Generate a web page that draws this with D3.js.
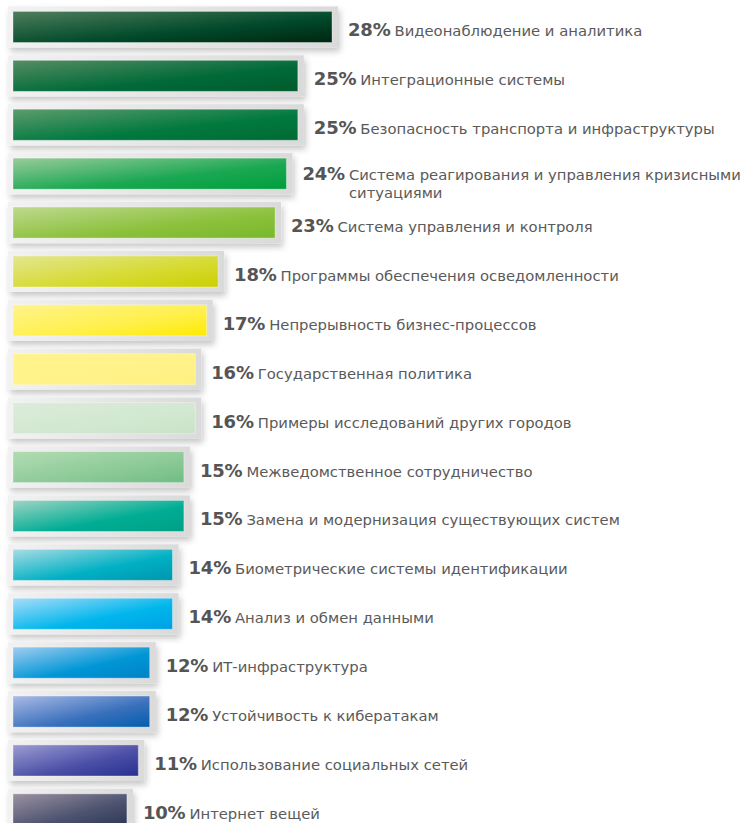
<!DOCTYPE html>
<html>
<head>
<meta charset="utf-8">
<script src="https://cdn.jsdelivr.net/npm/d3@7"></script>
<style>
  body { margin: 0; background: #fff; }
  #chart { width: 751px; height: 823px; }
  text { font-family: "DejaVu Sans", "Noto Sans", sans-serif; }
</style>
</head>
<body>
<div id="chart"></div>
<script>
const categories = [
  ['Видеонаблюдение и аналитика'],
  ['Интеграционные системы'],
  ['Безопасность транспорта и инфраструктуры'],
  ['Система реагирования и управления кризисными', 'ситуациями'],
  ['Система управления и контроля'],
  ['Программы обеспечения осведомленности'],
  ['Непрерывность бизнес-процессов'],
  ['Государственная политика'],
  ['Примеры исследований других городов'],
  ['Межведомственное сотрудничество'],
  ['Замена и модернизация существующих систем'],
  ['Биометрические системы идентификации'],
  ['Анализ и обмен данными'],
  ['ИТ-инфраструктура'],
  ['Устойчивость к кибератакам'],
  ['Использование социальных сетей'],
  ['Интернет вещей']
];
const values = [28, 25, 25, 24, 23, 18, 17, 16, 16, 15, 15, 14, 14, 12, 12, 11, 10];
// light / mid / dark gradient stops for each bar
const startColors = ['#4e7e5c', '#558d64', '#5e9c6e', '#9acb9c', '#bed98f', '#e3e690', '#fff48c', '#fff48c', '#dbecd8', '#b2dcb2', '#9fd4c5', '#a8dce4', '#a8ddf8', '#a2cdf0', '#abbbe5', '#9c9cd2', '#9c92a2'];
const midColors   = ['#00492a', '#006a38', '#00793f', '#1aa852', '#8cc13c', '#d6da30', '#fff04a', '#fff288', '#d2e8d0', '#8cca98', '#00ad94', '#00b0c4', '#00b6ec', '#0096d6', '#3a70bc', '#4a4ea6', '#4e5470'];
const endColors   = ['#002510', '#005a2c', '#006a34', '#009e3c', '#78b82a', '#cccf00', '#ffea00', '#fff080', '#c8e3c8', '#70bd84', '#00a085', '#0096ae', '#00a0e4', '#0082c6', '#005eae', '#283090', '#2e3858'];

const rows = categories.map((c, i) => ({ id: i, lines: c, value: values[i] }));

const svg = d3.select('#chart').append('svg')
  .attr('width', 751)
  .attr('height', 823);

const defs = svg.append('defs');

const shadow = defs.append('filter')
  .attr('id', 'shadow')
  .attr('x', '-10%').attr('y', '-40%')
  .attr('width', '130%').attr('height', '200%');
shadow.append('feDropShadow')
  .attr('dx', 2).attr('dy', 4)
  .attr('stdDeviation', 3)
  .attr('flood-color', '#000')
  .attr('flood-opacity', 0.22);

const frameGrad = defs.append('linearGradient')
  .attr('id', 'frame')
  .attr('x1', 0).attr('y1', 0).attr('x2', 1).attr('y2', 0);
frameGrad.append('stop').attr('offset', 0).attr('stop-color', '#f2f2f2');
frameGrad.append('stop').attr('offset', 1).attr('stop-color', '#dadada');

rows.forEach(d => {
  const g = defs.append('linearGradient')
    .attr('id', 'bar' + d.id)
    .attr('x1', 0).attr('y1', 0).attr('x2', 1).attr('y2', 1);
  g.append('stop').attr('offset', 0).attr('stop-color', startColors[d.id]);
  g.append('stop').attr('offset', 0.6).attr('stop-color', midColors[d.id]);
  g.append('stop').attr('offset', 1).attr('stop-color', endColors[d.id]);
});

const xScale = d3.scaleLinear()
  .domain([0, 28])
  .range([13, 332]);

const yScale = d3.scaleBand()
  .domain(rows.map(d => d.id))
  .range([2.5, 2.5 + 17 * 48.9])
  .paddingInner(0.16)
  .paddingOuter(0.08);

const pad = 5;

const row = svg.append('g').selectAll('g')
  .data(rows)
  .join('g')
    .attr('transform', d => `translate(0, ${yScale(d.id)})`);

row.append('rect')
  .attr('x', xScale(0) - pad)
  .attr('y', 0)
  .attr('width', d => xScale(d.value) - xScale(0) + pad * 2 + 1)
  .attr('height', yScale.bandwidth())
  .attr('fill', 'url(#frame)')
  .attr('filter', 'url(#shadow)');

row.append('rect')
  .attr('x', xScale(0))
  .attr('y', pad)
  .attr('width', d => xScale(d.value) - xScale(0))
  .attr('height', yScale.bandwidth() - pad * 2)
  .attr('fill', d => `url(#bar${d.id})`)
  .attr('stroke', 'rgba(255,255,255,0.35)')
  .attr('stroke-width', 1);

const label = row.append('text')
  .attr('x', d => xScale(d.value) + pad + 11)
  .attr('y', d => yScale.bandwidth() / 2 + (d.lines.length > 1 ? 6 : 9.5))
  .attr('fill', '#555');

const pct = label.append('tspan')
  .attr('font-size', 18)
  .attr('font-weight', 'bold')
  .attr('letter-spacing', -0.2)
  .text(d => d.value + '%');

label.append('tspan')
  .attr('font-size', 14.8)
  .attr('fill', '#5a5a5a')
  .attr('dx', 4)
  .text(d => d.lines[0]);

// wrapped second line, aligned under the category text
label.filter(d => d.lines.length > 1).each(function(d) {
  const t = d3.select(this);
  const pw = t.select('tspan').node().getComputedTextLength();
  t.append('tspan')
    .attr('x', xScale(d.value) + pad + 11 + pw + 4)
    .attr('dy', 18)
    .attr('font-size', 14.8)
    .attr('fill', '#5a5a5a')
    .text(d.lines[1]);
});
</script>
</body>
</html>
